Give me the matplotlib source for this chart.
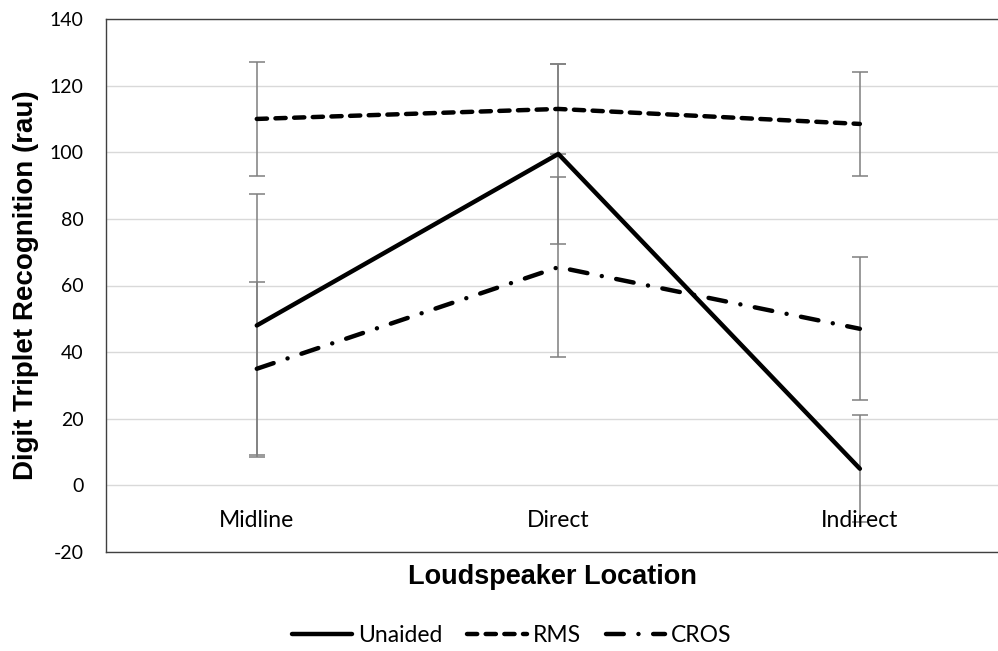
import matplotlib.pyplot as plt

plt.rcParams["axes.unicode_minus"] = False

locations = ["Midline", "Direct", "Indirect"]
unaided = [48, 99.5, 5]
unaided_err = [39.5, 27, 16]
rms = [110, 113, 108.5]
rms_err = [17, 13.5, 15.5]
cros = [35, 65.5, 47]
cros_err = [26, 27, 21.5]

tick_font = "Lato"
label_font = "Liberation Sans"

fig = plt.figure(figsize=(9.98, 6.51), dpi=100)
ax = fig.add_axes([106 / 998, 1 - 552 / 651, (998 - 106) / 998, (552 - 19) / 651])

x = range(len(locations))
lw = 3.2

ax.plot(x, unaided, color="black", linewidth=lw, label="Unaided",
        solid_capstyle="round", zorder=3)
ax.plot(x, rms, color="black", linewidth=lw, label="RMS",
        dashes=(2.3, 1.9), dash_capstyle="round", zorder=3)
ax.plot(x, cros, color="black", linewidth=lw, label="CROS",
        dashes=(4, 3.3, 0.01, 3.3), dash_capstyle="round", zorder=3)

for vals, errs in [(unaided, unaided_err), (rms, rms_err), (cros, cros_err)]:
    ax.errorbar(x, vals, yerr=errs, fmt="none", ecolor="#7f7f7f",
                elinewidth=1.1, capsize=5.5, capthick=1.1, zorder=2)

ax.set_xlim(-0.5, 2.458)
ax.set_ylim(-20, 140)
ax.set_yticks(range(-20, 141, 20))
ax.set_xticks([])
ax.yaxis.grid(True, color="#d9d9d9", linewidth=1)
ax.set_axisbelow(True)
ax.tick_params(axis="y", length=0, pad=16, labelsize=14)
for lbl in ax.get_yticklabels():
    lbl.set_fontfamily(tick_font)

for i, name in enumerate(locations):
    ax.text(i, -10.5, name, ha="center", va="center", fontsize=16.5,
            family=tick_font)

for side in ["left", "bottom", "top"]:
    ax.spines[side].set_color("#404040")
    ax.spines[side].set_linewidth(1)
ax.spines["right"].set_visible(False)

ax.set_xlabel("Loudspeaker Location", fontsize=19.5, fontweight="bold",
              family=label_font, labelpad=9)
ax.set_ylabel("Digit Triplet Recognition (rau)", fontsize=20,
              fontweight="bold", family=label_font, labelpad=8)

fig.legend(loc="center", bbox_to_anchor=(512 / 998, 1 - 636 / 651), ncol=3,
           frameon=False, prop={"family": tick_font, "size": 16.5},
           handlelength=2.6, columnspacing=1.1, handletextpad=0.25)

plt.savefig("out.png", dpi=100)
